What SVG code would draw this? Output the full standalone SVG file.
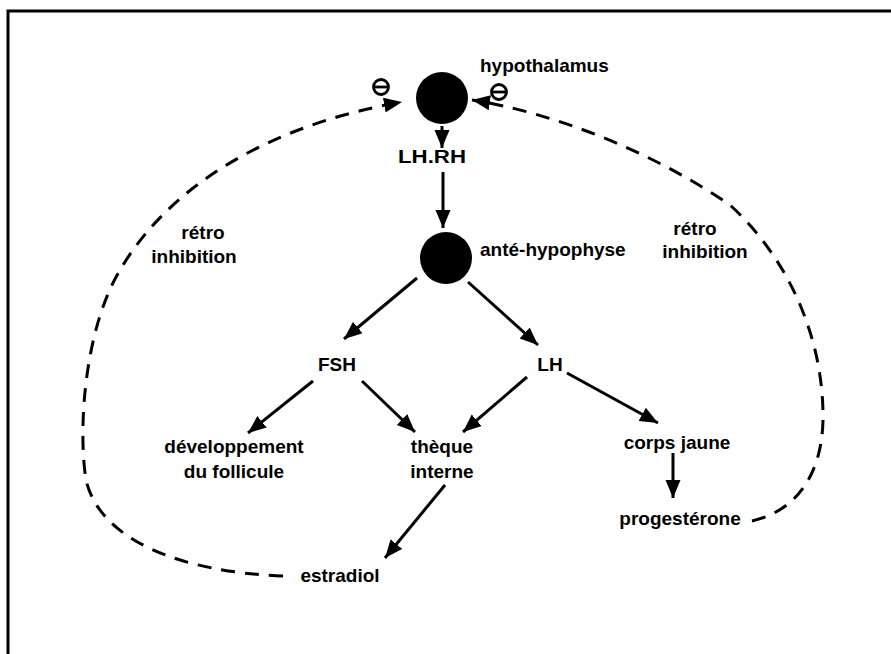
<svg xmlns="http://www.w3.org/2000/svg" width="891" height="654" viewBox="0 0 891 654">
<style>
text{font-family:"Liberation Sans",Arial,sans-serif;font-weight:bold;font-size:19px;fill:#000}
.a{stroke:#000;stroke-width:3;fill:none;marker-end:url(#ah)}
.d{stroke:#000;stroke-width:3;fill:none;stroke-dasharray:14 10;marker-end:url(#ah)}
.m{stroke:#000;stroke-width:2.8;fill:#fff}
</style>
<defs>
<marker id="ah" markerUnits="userSpaceOnUse" markerWidth="20" markerHeight="16" refX="18" refY="7.5" orient="auto">
<path d="M0,0 L18,7.5 L0,15 Z" fill="#000"/>
</marker>
</defs>
<rect width="891" height="654" fill="#fff"/>
<path d="M8,654 L8,11 L891,11" stroke="#000" stroke-width="3" fill="none"/>
<g id="hypothalamus">
<circle cx="442" cy="98" r="26" fill="#000"/>
<text x="480" y="72">hypothalamus</text>
</g>
<g id="lhrh"><text x="398" y="163" textLength="68" lengthAdjust="spacingAndGlyphs">LH.RH</text></g>
<g id="ante-hypophyse">
<circle cx="446" cy="258" r="26" fill="#000"/>
<text x="480" y="256">anté-hypophyse</text>
</g>
<g id="fsh"><text x="337" y="371" text-anchor="middle">FSH</text></g>
<g id="lh"><text x="550" y="371" text-anchor="middle">LH</text></g>
<g id="developpement">
<text x="234" y="453" text-anchor="middle">développement</text>
<text x="234" y="478" text-anchor="middle">du  follicule</text>
</g>
<g id="theque">
<text x="442" y="453" text-anchor="middle">thèque</text>
<text x="442" y="478" text-anchor="middle">interne</text>
</g>
<g id="corps-jaune"><text x="677" y="449" text-anchor="middle">corps jaune</text></g>
<g id="progesterone"><text x="680" y="525" text-anchor="middle">progestérone</text></g>
<g id="estradiol"><text x="340" y="582" text-anchor="middle">estradiol</text></g>
<g id="retro-left">
<text x="203" y="239" text-anchor="middle">rétro</text>
<text x="194" y="263" text-anchor="middle">inhibition</text>
</g>
<g id="retro-right">
<text x="695" y="235" text-anchor="middle">rétro</text>
<text x="705" y="258" text-anchor="middle">inhibition</text>
</g>
<g id="minus-left">
<circle class="m" cx="381" cy="87" r="7.5"/>
<line x1="375" y1="87" x2="387" y2="87" stroke="#000" stroke-width="2.8"/>
</g>
<g id="minus-right">
<circle class="m" cx="499" cy="92" r="7.5"/>
<line x1="493" y1="92" x2="505" y2="92" stroke="#000" stroke-width="2.8"/>
</g>
<g id="connectors">
<line class="a" x1="442" y1="126" x2="442" y2="148"/>
<line class="a" x1="443" y1="172" x2="443" y2="228"/>
<line class="a" x1="417" y1="278" x2="344" y2="339"/>
<line class="a" x1="468" y1="282" x2="538" y2="345"/>
<line class="a" x1="313" y1="381" x2="248" y2="433"/>
<line class="a" x1="362" y1="381" x2="415" y2="432"/>
<line class="a" x1="527" y1="377" x2="463" y2="432"/>
<line class="a" x1="567" y1="373" x2="658" y2="423"/>
<line class="a" x1="673" y1="453" x2="673" y2="498"/>
<line class="a" x1="445" y1="485" x2="385" y2="558"/>
<path class="d" d="M283,576 C180,572 100,540 86,480 C78,430 84,330 120,270 C170,185 270,125 402,102"/>
<path class="d" d="M752,521 C800,510 822,470 823,420 C824,340 790,260 730,205 C650,150 550,112 472,100"/>
</g>
</svg>
